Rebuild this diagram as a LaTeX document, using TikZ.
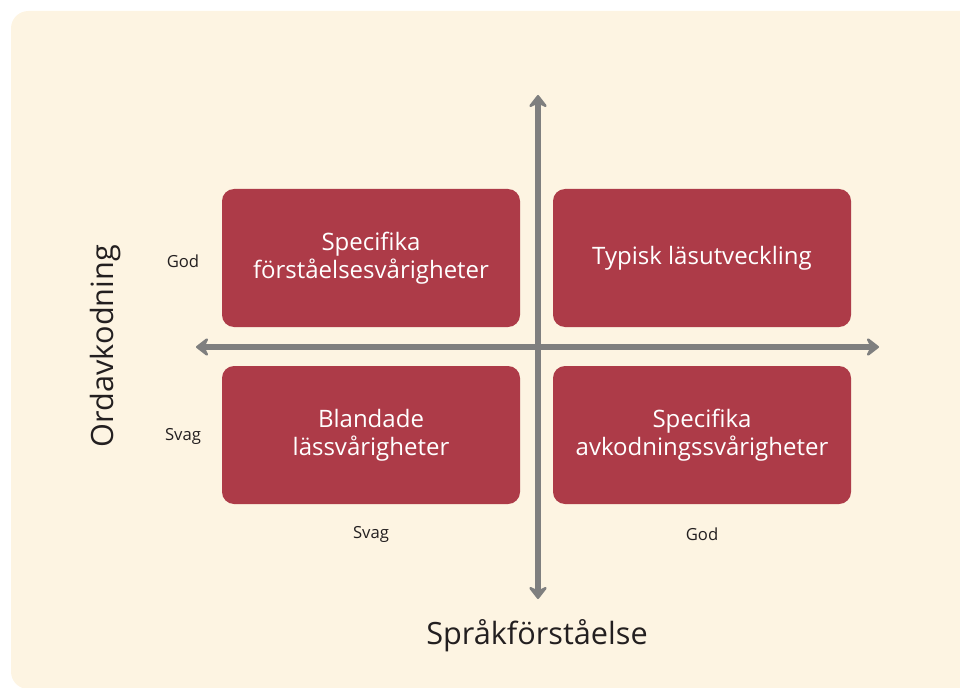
\documentclass[tikz,border=0pt]{standalone}
\usepackage{fontspec}
\setmainfont{Open Sans}
\usetikzlibrary{arrows.meta}
\definecolor{bgcream}{HTML}{FDF4E2}
\definecolor{boxred}{HTML}{AD3B48}
\definecolor{axisgray}{HTML}{7F7F7F}
\definecolor{labeltext}{HTML}{231F20}
\begin{document}
\begin{tikzpicture}[x=0.75pt,y=-0.75pt,
    quadbox/.style={fill=boxred, text=white, rounded corners=9pt,
        minimum width=223.5pt, minimum height=103.5pt, align=center,
        font=\fontsize{18}{21}\selectfont},
    smalllabel/.style={text=labeltext, font=\fontsize{12.5}{15}\selectfont},
    axislabel/.style={text=labeltext, font=\fontsize{23}{27}\selectfont},
    axisline/.style={draw=axisgray, line width=4.5pt,
        {Stealth[length=11pt,width=17pt,inset=4pt,round]}-{Stealth[length=11pt,width=17pt,inset=4pt,round]}}]
    \useasboundingbox (0,0) rectangle (960,688);
    \fill[bgcream, rounded corners=13pt] (11,11) rectangle (990,689);

    % quadrants
    \node [quadbox] (spfor) at (371,258) {Specifika\\förståelsesvårigheter};
    \node [quadbox] (typisk) at (702,258) {Typisk läsutveckling};
    \node [quadbox] (bland) at (371,435) {Blandade\\lässvårigheter};
    \node [quadbox] (spavk) at (702,435) {Specifika\\avkodningssvårigheter};

    % axes
    \coordinate (ytop) at (538,95);
    \coordinate (ybot) at (538,599);
    \coordinate (xleft) at (196,347);
    \coordinate (xright) at (879,347);
    \draw [axisline] (ybot) -- (ytop);
    \draw [axisline] (xleft) -- (xright);

    % labels
    \node [smalllabel] (ygod) at (183,261) {God};
    \node [smalllabel] (ysvag) at (183,436) {Svag};
    \node [smalllabel] (xsvag) at (371,534) {Svag};
    \node [smalllabel] (xgod) at (702,534) {God};
    \node [axislabel, rotate=90] (ordav) at (106,346) {Ordavkodning};
    \node [axislabel] (sprak) at (537,636) {Språkförståelse};
\end{tikzpicture}
\end{document}
